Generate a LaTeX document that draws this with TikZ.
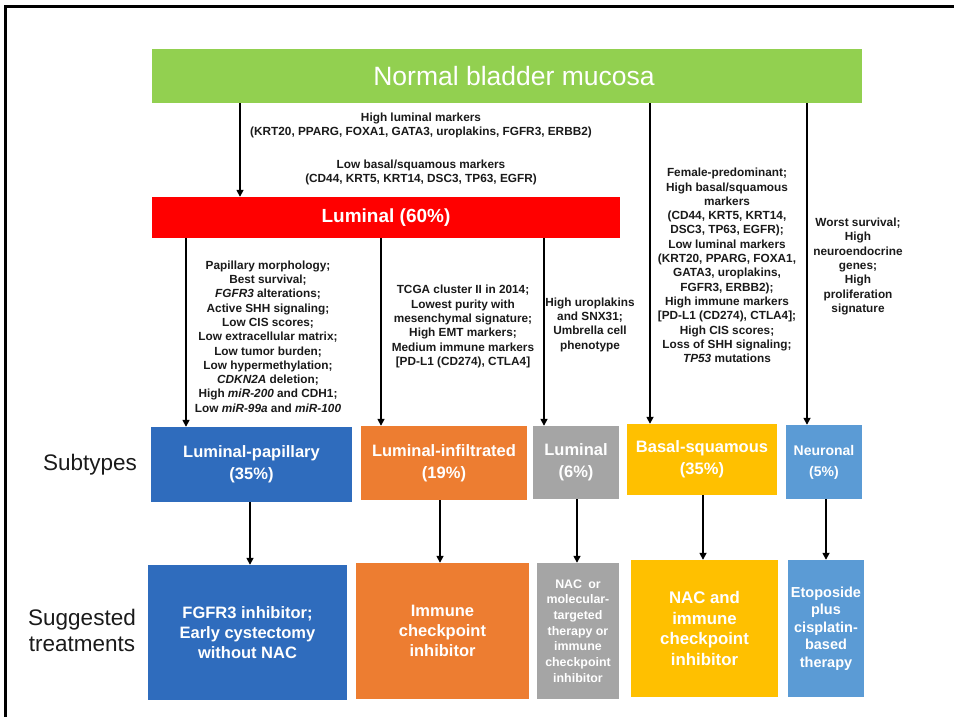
\documentclass[tikz,border=0pt]{standalone}
\usepackage{fontspec}
\setmainfont{Liberation Sans}
\usetikzlibrary{arrows.meta}
\definecolor{cgreen}{HTML}{92D050}
\definecolor{cred}{HTML}{FF0000}
\definecolor{cblue}{HTML}{2F6CBD}
\definecolor{corange}{HTML}{ED7D31}
\definecolor{cgray}{HTML}{A5A5A5}
\definecolor{cyellow}{HTML}{FFC000}
\definecolor{cneuro}{HTML}{5B9BD5}
\definecolor{ctext}{HTML}{1A1A1A}
\tikzset{
  box/.style={draw=none, inner sep=0pt, text=white, align=center, font=\bfseries},
  desc/.style={inner sep=0pt, align=center, text=ctext, font=\fontsize{11.8}{14.3}\selectfont\bfseries},
  lbl/.style={inner sep=0pt, align=center, text=ctext, font=\fontsize{22.5}{26}\selectfont},
  arr/.style={line width=1.6pt, -{Triangle[length=7pt,width=7pt]}},
  subfont/.style={font=\fontsize{16.5}{22}\selectfont\bfseries},
}
\begin{document}
\begin{tikzpicture}[x=1pt,y=-1pt]
\useasboundingbox (0,0) rectangle (954,717);
% frame
\draw[line width=3pt] (954,7) -- (5,7) -- (5,717);
% top boxes
\node[box, fill=cgreen, minimum width=710pt, minimum height=54pt, font=\fontsize{26.5}{30}\selectfont] (green) at (507,76) {\hspace*{14pt}Normal bladder mucosa};
\node[box, fill=cred, minimum width=468pt, minimum height=41pt, font=\fontsize{19}{22}\selectfont\bfseries] (red) at (386,217.5) {Luminal (60\%)};
% subtypes
\node[box, fill=cblue, minimum width=201pt, minimum height=75pt, subfont] (lp) at (251.5,464.5) {Luminal-papillary\\(35\%)};
\node[box, fill=corange, minimum width=166pt, minimum height=74pt, subfont] (li) at (444,463) {Luminal-infiltrated\\(19\%)};
\node[box, fill=cgray, minimum width=86pt, minimum height=73pt, subfont] (lg) at (576,462.5) {Luminal\\(6\%)};
\node[box, fill=cyellow, minimum width=150pt, minimum height=71pt, subfont] (bs) at (702,459.5) {Basal-squamous\\(35\%)};
\node[box, fill=cneuro, minimum width=76pt, minimum height=74pt, font=\fontsize{14}{21}\selectfont\bfseries] (ne) at (824,462) {Neuronal\\(5\%)};
% treatments
\node[box, fill=cblue, minimum width=199pt, minimum height=135pt, font=\fontsize{16.5}{20}\selectfont\bfseries] (t1) at (247.5,632.5) {FGFR3 inhibitor;\\Early cystectomy\\without NAC};
\node[box, fill=corange, minimum width=173pt, minimum height=136pt, font=\fontsize{16.5}{20}\selectfont\bfseries] (t2) at (442.5,631) {Immune\\checkpoint\\inhibitor};
\node[box, fill=cgray, minimum width=82pt, minimum height=136pt, font=\fontsize{12.4}{15.7}\selectfont\bfseries] (t3) at (578,631) {NAC\enspace or\\molecular-\\targeted\\therapy or\\immune\\checkpoint\\inhibitor};
\node[box, fill=cyellow, minimum width=147pt, minimum height=137pt, font=\fontsize{16.8}{20.8}\selectfont\bfseries] (t4) at (704.5,628.5) {NAC and\\immune\\checkpoint\\inhibitor};
\node[box, fill=cneuro, minimum width=76pt, minimum height=137pt, font=\fontsize{14.5}{17.5}\selectfont\bfseries] (t5) at (826,628.5) {Etoposide\\plus\\cisplatin-\\based\\therapy};
% row labels
\node[lbl] (sublbl) at (90,465) {Subtypes};
\node[lbl] (trlbl) at (82,630) {Suggested\\treatments};
% descriptions
\node[desc] (dtop1) at (421,125.5) {High luminal markers\\(KRT20, PPARG, FOXA1, GATA3, uroplakins, FGFR3, ERBB2)};
\node[desc] (dtop2) at (421,172.5) {Low basal/squamous markers\\(CD44, KRT5, KRT14, DSC3, TP63, EGFR)};
\node[desc] (d1) at (268,336.5) {Papillary morphology;\\Best survival;\\\textit{FGFR3} alterations;\\Active SHH signaling;\\Low CIS scores;\\Low extracellular matrix;\\Low tumor burden;\\Low hypermethylation;\\\textit{CDKN2A} deletion;\\High \textit{miR-200} and CDH1;\\Low \textit{miR-99a} and \textit{miR-100}};
\node[desc] (d2) at (463,326.5) {TCGA cluster II in 2014;\\Lowest purity with\\mesenchymal signature;\\High EMT markers;\\Medium immune markers\\{[PD-L1 (CD274), CTLA4]}};
\node[desc] (d3) at (590,324.5) {High uroplakins\\and SNX31;\\Umbrella cell\\phenotype};
\node[desc] (d4) at (727,265.5) {Female-predominant;\\High basal/squamous\\markers\\(CD44, KRT5, KRT14,\\DSC3, TP63, EGFR);\\Low luminal markers\\(KRT20, PPARG, FOXA1,\\GATA3, uroplakins,\\FGFR3, ERBB2);\\High immune markers\\{[PD-L1 (CD274), CTLA4];}\\High CIS scores;\\Loss of SHH signaling;\\\textit{TP53} mutations};
\node[desc] (d5) at (858,266.5) {Worst survival;\\High\\neuroendocrine\\genes;\\High\\proliferation\\signature};
% connectors
\draw[arr] (green.south -| 240,0) -- (red.north -| 240,0);
\draw[arr] (green.south -| 650,0) -- (bs.north -| 650,0);
\draw[arr] (green.south -| 807,0) -- (ne.north -| 807,0);
\draw[arr] (red.south -| 186,0) -- (lp.north -| 186,0);
\draw[arr] (red.south -| 381,0) -- (li.north -| 381,0);
\draw[arr] (red.south -| 544,0) -- (lg.north -| 544,0);
\draw[arr] (lp.south -| 250,0) -- (t1.north -| 250,0);
\draw[arr] (li.south -| 440,0) -- (t2.north -| 440,0);
\draw[arr] (lg.south -| 577,0) -- (t3.north -| 577,0);
\draw[arr] (bs.south -| 703,0) -- (t4.north -| 703,0);
\draw[arr] (ne.south -| 826,0) -- (t5.north -| 826,0);
\end{tikzpicture}
\end{document}
